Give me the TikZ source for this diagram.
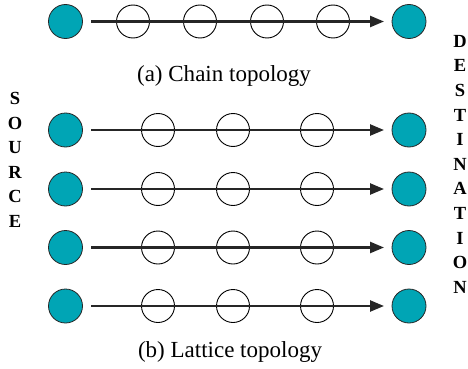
\documentclass[tikz,border=0pt]{standalone}
\usepackage{fontspec}
\setmainfont{Liberation Serif}
\usetikzlibrary{arrows.meta}
\definecolor{endteal}{HTML}{00A5B5}
\begin{document}
\begin{tikzpicture}[x=1pt,y=-1pt,
  endpoint/.style={circle,draw=black!85,line width=0.8pt,fill=endteal,minimum size=34pt,inner sep=0pt},
  relay/.style={circle,draw=black,line width=0.9pt,minimum size=33pt,inner sep=0pt},
  flow/.style={line width=2.4pt,draw=black!85,-{Triangle[length=14pt,width=11pt]}},
  caption/.style={font=\fontsize{23}{27}\selectfont},
  sidelabel/.style={font=\fontsize{18.5}{24.6}\selectfont\bfseries,align=center,inner sep=0pt}]
\useasboundingbox (0,0) rectangle (468,369);
% chain topology
\node[endpoint] (cs) at (65.5,21.5) {};
\node[endpoint] (cd) at (409,21.5) {};
\foreach \i/\x in {1/133,2/200,3/267,4/333}
  \node[relay] (cr\i) at (\x,21.5) {};
\coordinate (cstart) at (91,21.5);
\coordinate (cend) at (384,21.5);
\draw[flow] (cstart) -- (cend);
\node[caption] (capa) at (224,76) {(a) Chain topology};
% lattice topology
\foreach \r/\y in {1/130,2/189,3/247.5,4/306} {
  \node[endpoint] (ls\r) at (65.5,\y) {};
  \node[endpoint] (ld\r) at (409,\y) {};
  \foreach \i/\x in {1/158,2/233,3/317}
    \node[relay] (lr\r\i) at (\x,\y) {};
  \coordinate (lstart\r) at (91,\y);
  \coordinate (lend\r) at (384,\y);
  \draw[flow] (lstart\r) -- (lend\r);
}
\node[caption] (capb) at (230,352) {(b) Lattice topology};
% side labels
\node[sidelabel,anchor=north] (srclabel) at (15,92) {S\\O\\U\\R\\C\\E};
\node[sidelabel,anchor=north] (dstlabel) at (460,35) {D\\E\\S\\T\\I\\N\\A\\T\\I\\O\\N};
\end{tikzpicture}
\end{document}
